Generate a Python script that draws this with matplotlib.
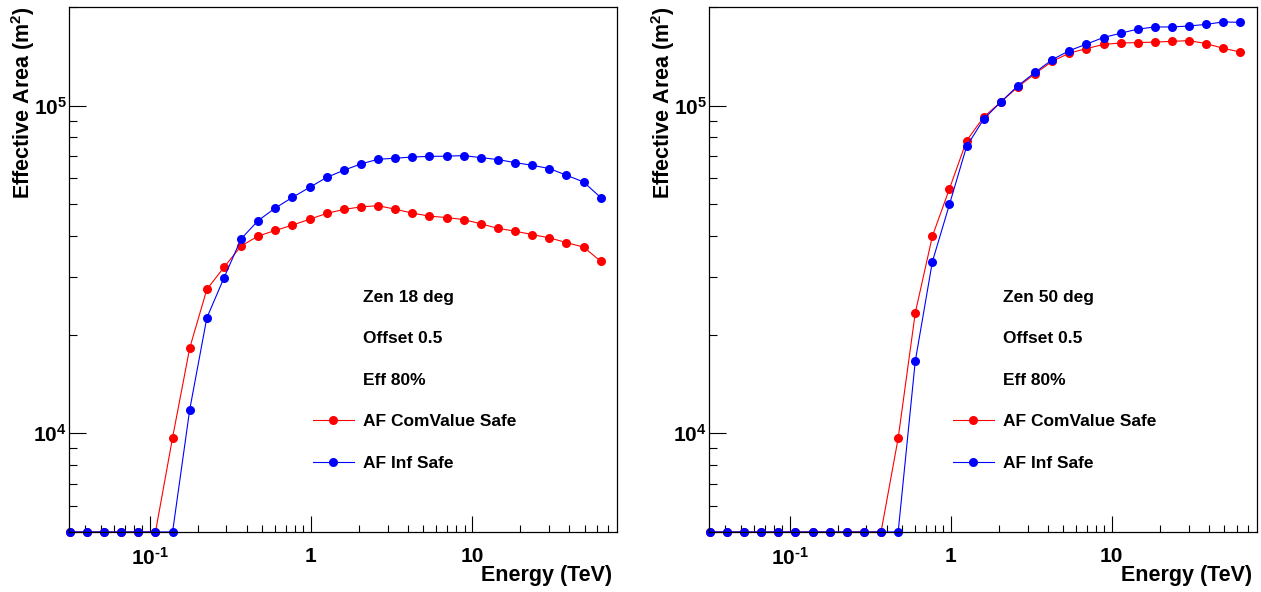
#!/usr/bin/env python3
import numpy as np
from matplotlib import pyplot as plt
from matplotlib.lines import Line2D
from matplotlib.ticker import LogLocator, FuncFormatter, NullFormatter

# energy bins (TeV), same for every curve
energy = np.array([0.03200, 0.04087, 0.05220, 0.06665, 0.08515, 0.1088, 0.1389, 0.1774,
                   0.2266, 0.2894, 0.3696, 0.4720, 0.6028, 0.7698, 0.9833, 1.256,
                   1.604, 2.048, 2.616, 3.341, 4.267, 5.450, 6.961, 8.890,
                   11.35, 14.50, 18.52, 23.65, 30.20, 38.58, 49.27, 62.93])

# zenith 18 deg (m^2), 0 means no area
zen18_comvalue = np.array([0, 0, 0, 0, 0, 0, 9700, 18200,
                           27500, 32100, 37300, 40000, 41600, 43200, 45000, 46900,
                           48200, 49100, 49500, 48300, 47000, 46000, 45550, 44900,
                           43600, 42200, 41400, 40400, 39500, 38200, 37000, 33500])
zen18_inf = np.array([0, 0, 0, 0, 0, 0, 0, 11800,
                      22500, 29800, 39200, 44600, 48700, 52500, 56300, 60400,
                      63500, 66400, 68600, 69100, 69700, 70000, 70100, 70400,
                      69400, 68450, 67000, 65760, 64270, 61330, 58480, 52430])

# zenith 50 deg (m^2)
zen50_comvalue = np.array([0, 0, 0, 0, 0, 0, 0, 0,
                           0, 0, 0, 9660, 23300, 39950, 55800, 78200,
                           92300, 102600, 114000, 125200, 136500, 144600, 149300, 153700,
                           155300, 155700, 156300, 157100, 157900, 154600, 149600, 145700])
zen50_inf = np.array([0, 0, 0, 0, 0, 0, 0, 0,
                      0, 0, 0, 0, 16600, 33400, 50000, 75100,
                      91000, 102600, 115000, 126300, 138100, 147100, 154100, 161400,
                      166300, 171200, 173800, 173800, 175000, 177000, 180100, 179500])

panels = [("Zen 18 deg", zen18_comvalue, zen18_inf),
          ("Zen 50 deg", zen50_comvalue, zen50_inf)]

XMIN, XMAX = 10 ** -1.5, 10 ** 1.9
YMIN, YMAX = 5000, 2e5

plt.rcParams['font.family'] = ['Liberation Sans', 'DejaVu Sans']
plt.rcParams['font.weight'] = 'bold'
plt.rcParams['axes.unicode_minus'] = False
plt.rcParams['mathtext.fontset'] = 'custom'
plt.rcParams['mathtext.rm'] = 'Liberation Sans:bold'
plt.rcParams['mathtext.bf'] = 'Liberation Sans:bold'
plt.rcParams['mathtext.it'] = 'Liberation Sans:bold'


def pow_label(v, pos):
    e = int(round(np.log10(v)))
    if 0 <= e <= 1 and v < 50:
        return '%d' % round(v)
    if e < 0:
        # short hyphen like ROOT, not the long math minus
        return r'$\mathbf{10^{\text{-}%d}}$' % (-e)
    return r'$\mathbf{10^{%d}}$' % e


def draw_panel(ax, title, comvalue, inf):
    # ROOT draws zero points on the lower frame edge
    ax.plot(energy, np.clip(comvalue, YMIN, None), color='#ff0000', lw=0.8,
            marker='o', ms=6.5, mew=0, clip_on=False)
    ax.plot(energy, np.clip(inf, YMIN, None), color='#0000ff', lw=0.8,
            marker='o', ms=6.5, mew=0, clip_on=False)

    ax.set_xscale('log')
    ax.set_yscale('log')
    ax.set_xlim(XMIN, XMAX)
    ax.set_ylim(YMIN, YMAX)

    ax.xaxis.set_major_locator(LogLocator(base=10, numticks=10))
    ax.xaxis.set_minor_locator(LogLocator(base=10, subs=np.arange(2, 10), numticks=20))
    ax.yaxis.set_major_locator(LogLocator(base=10, numticks=10))
    ax.yaxis.set_minor_locator(LogLocator(base=10, subs=np.arange(2, 10), numticks=20))
    ax.xaxis.set_major_formatter(FuncFormatter(pow_label))
    ax.yaxis.set_major_formatter(FuncFormatter(pow_label))
    ax.xaxis.set_minor_formatter(NullFormatter())
    ax.yaxis.set_minor_formatter(NullFormatter())

    ax.tick_params(axis='x', which='major', direction='in', length=11.5, width=0.8,
                   labelsize=15, pad=11, top=False)
    ax.tick_params(axis='x', which='minor', direction='in', length=5, width=0.8, top=False)
    ax.tick_params(axis='y', which='major', direction='in', length=12, width=0.8,
                   labelsize=15, pad=1.5, right=False)
    ax.tick_params(axis='y', which='minor', direction='in', length=5.8, width=0.8, right=False)
    for s in ax.spines.values():
        s.set_linewidth(0.9)

    ax.set_xlabel('Energy (TeV)', fontsize=15.5, fontweight='bold', ha='right', va='center')
    ax.xaxis.set_label_coords(0.991, -0.083)
    ax.set_ylabel(r'Effective Area (m$^{2}$)', fontsize=15.5, fontweight='bold',
                  loc='top')
    ax.yaxis.set_label_coords(-0.059, 1.002)

    blank = Line2D([], [], linestyle='none')
    handles = [blank, blank, blank,
               Line2D([], [], color='#ff0000', lw=0.8, marker='o', ms=6.5, mew=0),
               Line2D([], [], color='#0000ff', lw=0.8, marker='o', ms=6.5, mew=0)]
    labels = [title, 'Offset 0.5', 'Eff 80%', 'AF ComValue Safe', 'AF Inf Safe']
    ax.legend(handles, labels, loc='upper left', bbox_to_anchor=(0.445, 0.462),
              frameon=False, handlelength=2.35, handletextpad=0.55, labelspacing=1.52,
              borderpad=0, borderaxespad=0,
              prop={'family': 'Liberation Sans', 'weight': 'bold', 'size': 12.5})


def main():
    fig = plt.figure(figsize=(12.61, 5.92), dpi=100)
    ax_left = fig.add_axes([0.0547, 0.1014, 0.4346, 0.8868])
    ax_right = fig.add_axes([0.5623, 0.1014, 0.4343, 0.8868])
    for ax, (title, com, inf) in zip([ax_left, ax_right], panels):
        draw_panel(ax, title, com, inf)
    fig.savefig('out.png', dpi=100)


if __name__ == "__main__":
    main()
